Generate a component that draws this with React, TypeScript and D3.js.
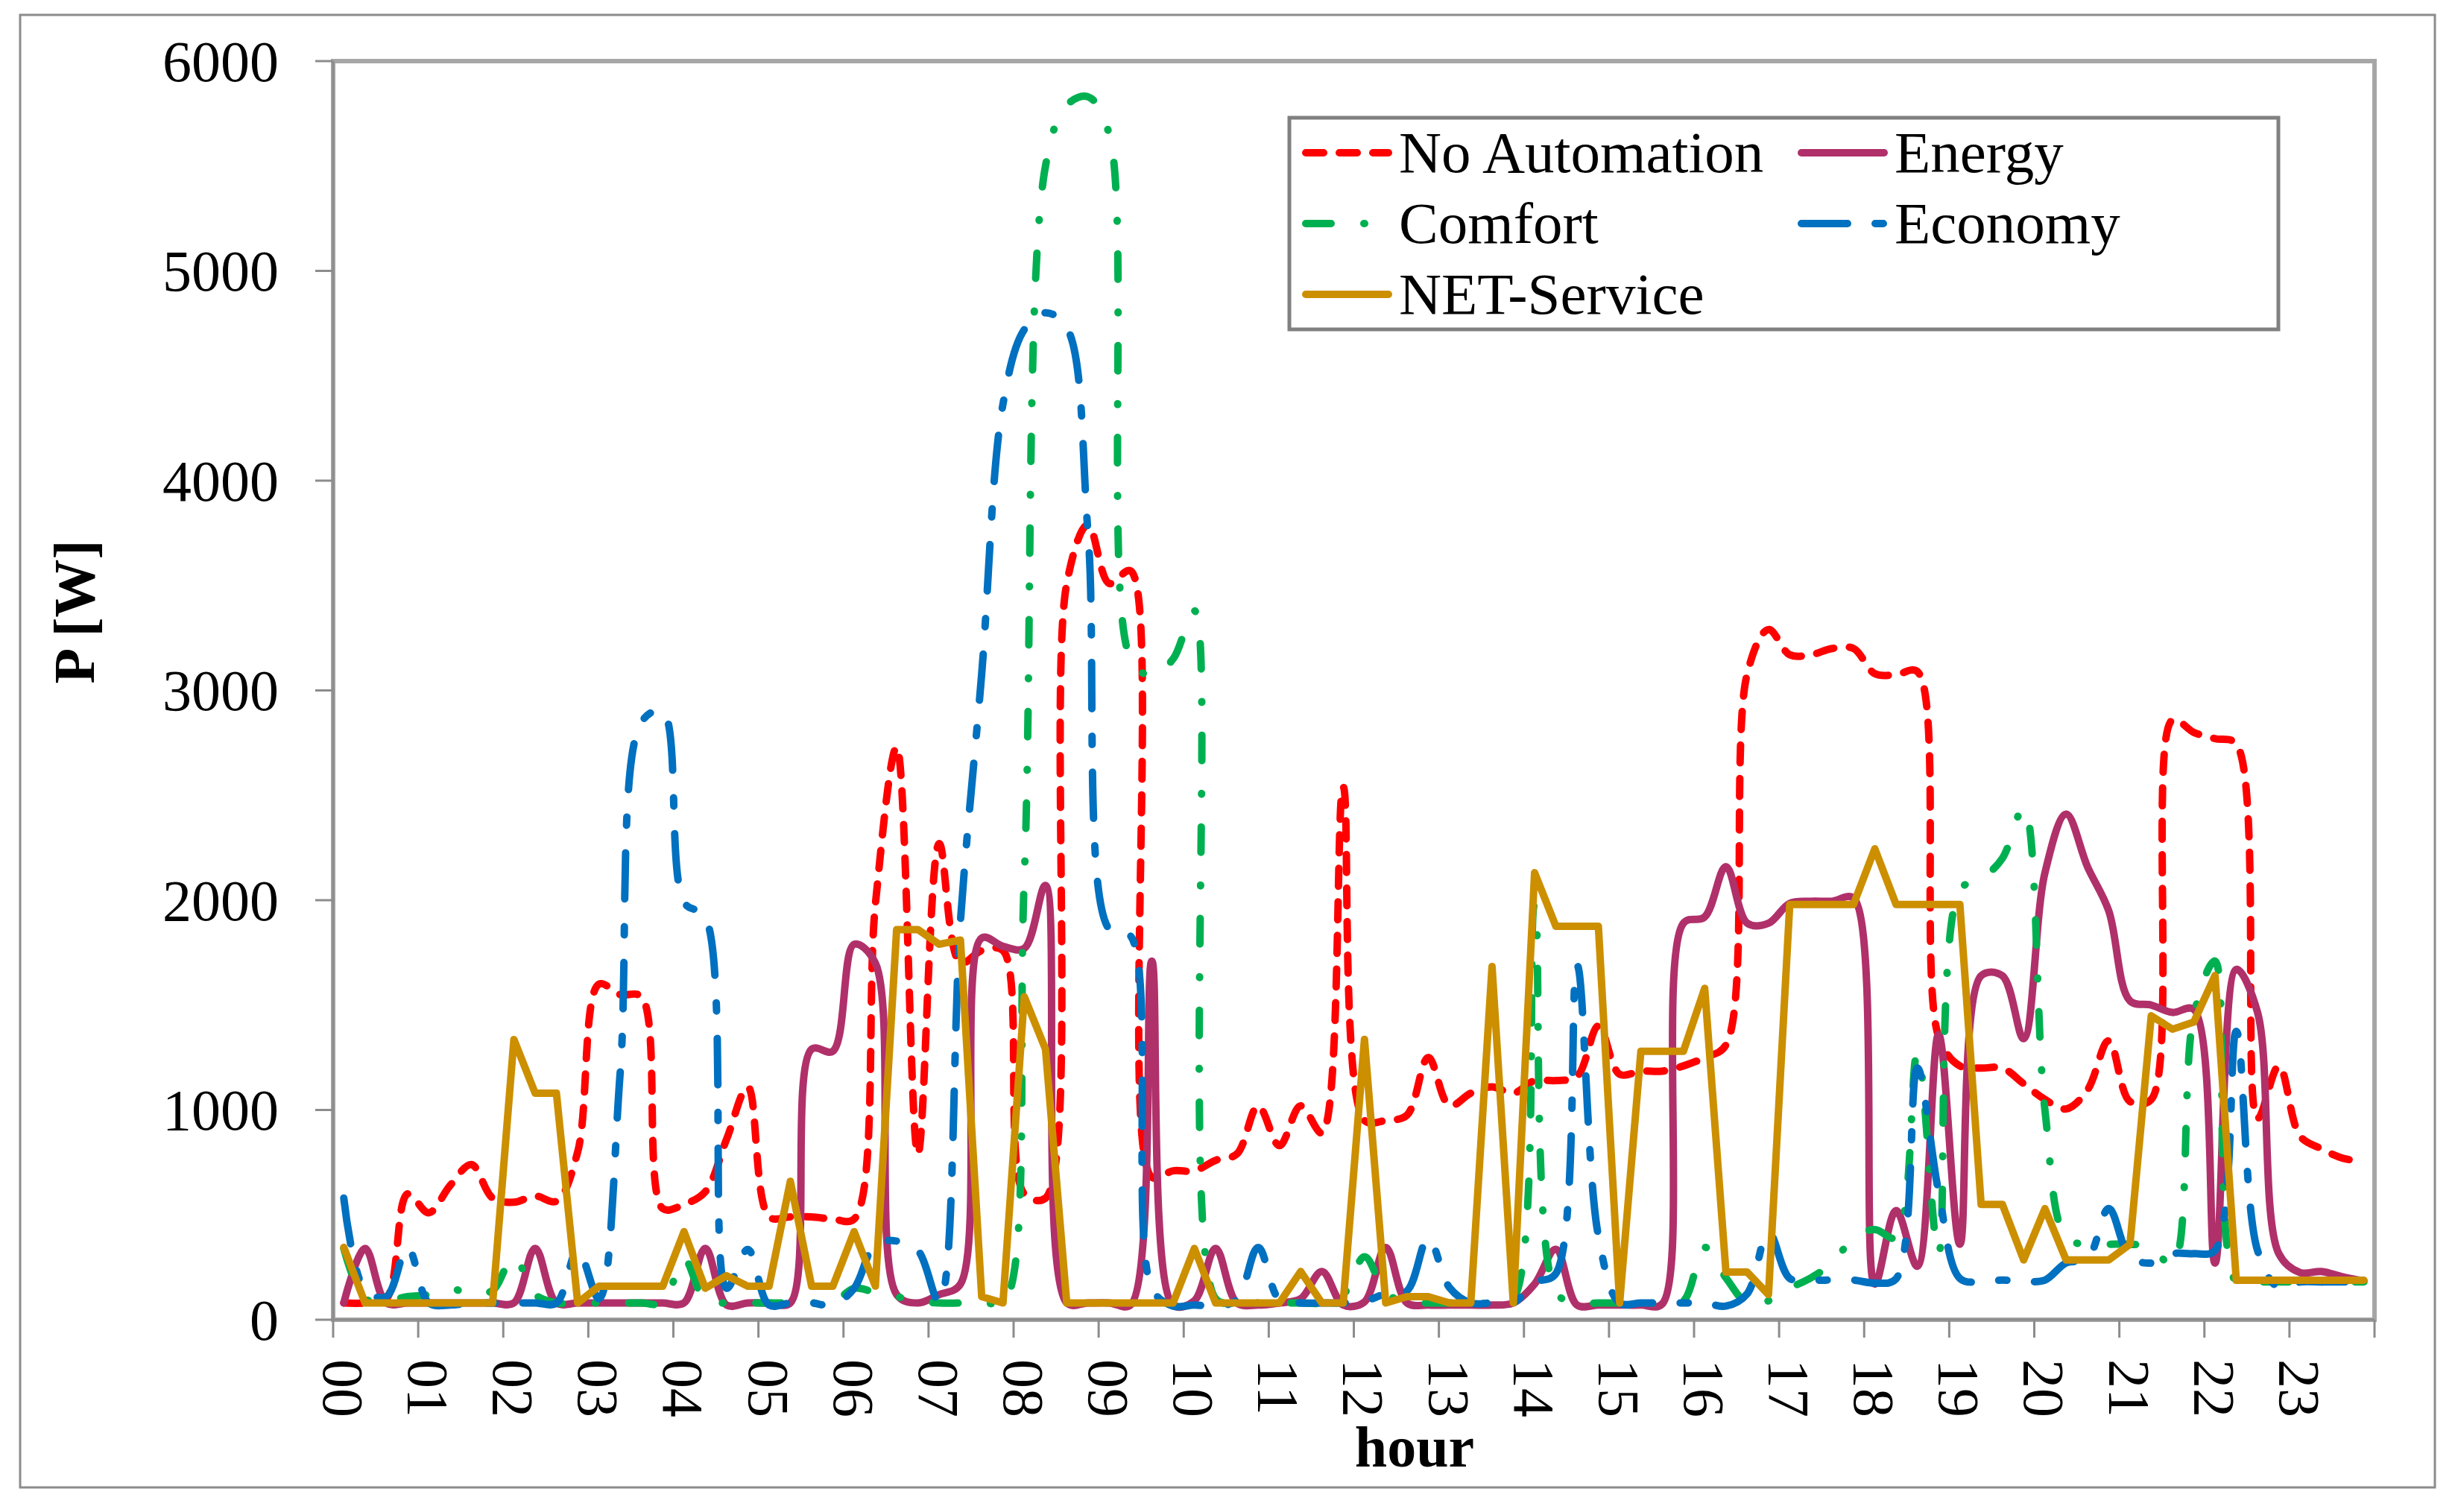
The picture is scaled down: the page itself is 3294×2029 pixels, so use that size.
import { useEffect, useRef } from 'react';
import * as d3 from 'd3';

// Household power profile, 15-minute slots over one day, five control strategies.

const W = 3294;
const H = 2029;
const PLOT = { left: 447, right: 3186, top: 82, bottom: 1771 };
const FONT = '"Liberation Serif", "Times New Roman", serif';

const HOURS = [
  '00', '01', '02', '03', '04', '05', '06', '07', '08', '09', '10', '11',
  '12', '13', '14', '15', '16', '17', '18', '19', '20', '21', '22', '23',
];
const Y_TICKS = [0, 1000, 2000, 3000, 4000, 5000, 6000];

// values per 15 min, four per hour (one row = one hour)
const NO_AUTOMATION = [
  80, 80, 100, 600,
  510, 640, 740, 580,
  560, 590, 565, 800,
  1600, 1550, 1540, 530,
  550, 610, 860, 1110,
  490, 490, 490, 480,
  480, 1980, 2730, 790,
  2270, 1700, 1760, 1760,
  600, 580, 3510, 3790,
  3510, 3570, 680, 710,
  710, 760, 790, 1020,
  830, 1020, 890, 2540,
  950, 950, 975, 1250,
  1020, 1080, 1110, 1080,
  1140, 1140, 1160, 1400,
  1170, 1185, 1185, 1210,
  1250, 1310, 3080, 3290,
  3170, 3170, 3200, 3200,
  3080, 3075, 3090, 1350,
  1210, 1200, 1200, 1125,
  1050, 1005, 1095, 1330,
  1040, 1050, 2860, 2800,
  2770, 2745, 960, 1210,
  875, 815, 770, 755,
];

const ENERGY = [
  80, 340, 80, 80,
  80, 80, 80, 80,
  80, 340, 80, 80,
  80, 80, 80, 80,
  80, 340, 70, 80,
  80, 80, 1290, 1280,
  1790, 1700, 120, 80,
  120, 170, 1820, 1780,
  1770, 2070, 80, 80,
  80, 70, 1710, 70,
  90, 340, 80, 70,
  80, 100, 230, 70,
  85, 345, 80, 70,
  70, 70, 70, 80,
  170, 336, 70, 70,
  70, 70, 75, 1890,
  1920, 2160, 1890, 1890,
  1985, 1995, 1995, 2010,
  170, 520, 255, 1360,
  360, 1640, 1640, 1340,
  2130, 2410, 2160, 1950,
  1520, 1500, 1465, 1480,
  270, 1670, 1465, 315,
  225, 230, 205, 185,
];

const COMFORT = [
  340, 100, 90, 110,
  120, 150, 120, 140,
  300, 120, 80, 80,
  80, 80, 80, 80,
  290, 90, 80, 80,
  80, 80, 80, 80,
  150, 130, 110, 90,
  80, 80, 90, 75,
  2100, 5500, 5790, 5830,
  5650, 3150, 3070, 3150,
  3380, 100, 80, 80,
  80, 80, 80, 120,
  300, 130, 80, 80,
  80, 80, 80, 100,
  1980, 130, 80, 80,
  80, 80, 80, 90,
  345, 200, 80, 90,
  150, 200, 270, 390,
  430, 390, 1270, 315,
  2050, 2100, 2200, 2440,
  1000, 390, 360, 360,
  360, 345, 260, 1450,
  1710, 180, 180, 180,
  180, 180, 180, 180,
];

const ECONOMY = [
  580, 140, 110, 345,
  80, 70, 80, 80,
  80, 80, 80, 330,
  100, 1180, 2850, 2900,
  1990, 1920, 150, 335,
  70, 80, 80, 70,
  150, 360, 375, 330,
  85, 1900, 3080, 4365,
  4720, 4800, 4730, 3750,
  1860, 1830, 150, 65,
  70, 65, 95, 345,
  95, 80, 80, 80,
  88, 124, 138, 389,
  153, 80, 80, 80,
  177, 220, 1690, 400,
  80, 80, 80, 80,
  80, 65, 124, 418,
  197, 189, 189, 189,
  175, 195, 1200, 610,
  197, 180, 189, 183,
  189, 271, 290, 530,
  300, 270, 315, 315,
  330, 1375, 330, 153,
  180, 180, 180, 180,
];

const NET_SERVICE = [
  345, 80, 80, 80,
  80, 80, 80, 80,
  1336, 1080, 1080, 80,
  160, 160, 160, 160,
  420, 150, 210, 160,
  160, 660, 160, 160,
  420, 160, 1860, 1860,
  1790, 1810, 110, 80,
  1540, 1290, 80, 80,
  80, 80, 80, 80,
  340, 80, 80, 80,
  80, 230, 80, 80,
  1337, 80, 110, 110,
  80, 80, 1684, 80,
  2131, 1876, 1876, 1876,
  80, 1280, 1280, 1280,
  1580, 227, 227, 120,
  1980, 1980, 1980, 1980,
  2245, 1980, 1980, 1980,
  1980, 550, 550, 285,
  530, 285, 285, 285,
  360, 1449, 1385, 1419,
  1641, 188, 188, 188,
  188, 188, 188, 188,
];

interface Series {
  name: string;
  values: number[];
  colour: string;
  dash: string | null;
  smooth: boolean;
}

// drawing order = Excel series order, NET-Service ends up on top
const SERIES: Series[] = [
  { name: 'No Automation', values: NO_AUTOMATION, colour: '#ff0000', dash: '24 21', smooth: true },
  { name: 'Energy', values: ENERGY, colour: '#b0306a', dash: null, smooth: true },
  { name: 'Comfort', values: COMFORT, colour: '#00b050', dash: '34 44 1 44', smooth: true },
  { name: 'Economy', values: ECONOMY, colour: '#0070c0', dash: '62 37 11 37', smooth: true },
  { name: 'NET-Service', values: NET_SERVICE, colour: '#cc8f00', dash: null, smooth: false },
];

const LINE_W = 10;

export default function App() {
  const svgRef = useRef<SVGSVGElement>(null);

  useEffect(() => {
    if (!svgRef.current) return;
    const svg = d3.select(svgRef.current);
    svg.selectAll('*').remove();

    const nSlots = NO_AUTOMATION.length;
    const x = d3
      .scaleBand<number>()
      .domain(d3.range(nSlots))
      .range([PLOT.left, PLOT.right]);
    const bw = x.bandwidth();
    const y = d3.scaleLinear().domain([0, 6000]).range([PLOT.bottom, PLOT.top]);

    svg.append('rect').attr('width', W).attr('height', H).attr('fill', '#fff');

    // chart frame
    svg
      .append('rect')
      .attr('x', 27)
      .attr('y', 20)
      .attr('width', 3240)
      .attr('height', 1976)
      .attr('fill', 'none')
      .attr('stroke', '#8c8c8c')
      .attr('stroke-width', 3);

    // plot area border
    svg
      .append('rect')
      .attr('x', PLOT.left)
      .attr('y', PLOT.top)
      .attr('width', PLOT.right - PLOT.left)
      .attr('height', PLOT.bottom - PLOT.top)
      .attr('fill', 'none')
      .attr('stroke', '#a6a6a6')
      .attr('stroke-width', 6);

    // y axis
    const yAxis = svg.append('g');
    yAxis
      .append('line')
      .attr('x1', PLOT.left)
      .attr('x2', PLOT.left)
      .attr('y1', PLOT.top)
      .attr('y2', PLOT.bottom)
      .attr('stroke', '#8c8c8c')
      .attr('stroke-width', 3);
    Y_TICKS.forEach((t) => {
      yAxis
        .append('line')
        .attr('x1', PLOT.left - 24)
        .attr('x2', PLOT.left)
        .attr('y1', y(t))
        .attr('y2', y(t))
        .attr('stroke', '#8c8c8c')
        .attr('stroke-width', 3);
      yAxis
        .append('text')
        .attr('x', 374)
        .attr('y', y(t))
        .attr('dy', '0.34em')
        .attr('text-anchor', 'end')
        .attr('font-family', FONT)
        .attr('font-size', 78)
        .attr('fill', '#000')
        .text(t);
    });

    // x axis: tick every 4 slots, hour label centred on the first slot of the hour
    const xAxis = svg.append('g');
    xAxis
      .append('line')
      .attr('x1', PLOT.left)
      .attr('x2', PLOT.right)
      .attr('y1', PLOT.bottom)
      .attr('y2', PLOT.bottom)
      .attr('stroke', '#8c8c8c')
      .attr('stroke-width', 3);
    d3.range(0, nSlots + 1, 4).forEach((s) => {
      const tx = s < nSlots ? (x(s) as number) : PLOT.right;
      xAxis
        .append('line')
        .attr('x1', tx)
        .attr('x2', tx)
        .attr('y1', PLOT.bottom)
        .attr('y2', PLOT.bottom + 24)
        .attr('stroke', '#8c8c8c')
        .attr('stroke-width', 3);
    });
    HOURS.forEach((h, k) => {
      const cx = (x(k * 4) as number) + bw / 2;
      xAxis
        .append('text')
        .attr('transform', `translate(${cx},1824) rotate(90)`)
        .attr('dy', '0.35em')
        .attr('font-family', FONT)
        .attr('font-size', 78)
        .attr('fill', '#000')
        .text(h);
    });

    // axis titles
    svg
      .append('text')
      .attr('transform', 'translate(126,821) rotate(-90)')
      .attr('text-anchor', 'middle')
      .attr('font-family', FONT)
      .attr('font-weight', 'bold')
      .attr('font-size', 78)
      .text('P [W]');
    svg
      .append('text')
      .attr('x', 1898)
      .attr('y', 1968)
      .attr('text-anchor', 'middle')
      .attr('font-family', FONT)
      .attr('font-weight', 'bold')
      .attr('font-size', 78)
      .text('hour');

    // series
    const lines = svg.append('g');
    SERIES.forEach((s) => {
      const line = d3
        .line<number>()
        .x((_, i) => (x(i) as number) + bw / 2)
        .y((v) => y(v))
        .curve(s.smooth ? d3.curveCatmullRom : d3.curveLinear);
      const path = lines
        .append('path')
        .attr('d', line(s.values))
        .attr('fill', 'none')
        .attr('stroke', s.colour)
        .attr('stroke-width', LINE_W)
        .attr('stroke-linejoin', 'round')
        .attr('stroke-linecap', 'round');
      if (s.dash) path.attr('stroke-dasharray', s.dash);
    });

    // legend
    const lg = svg.append('g');
    lg.append('rect')
      .attr('x', 1730)
      .attr('y', 158)
      .attr('width', 1327)
      .attr('height', 284)
      .attr('fill', '#fff')
      .attr('stroke', '#808080')
      .attr('stroke-width', 5);
    const colX = [1747, 2412];
    const rowY = [205, 300, 395];
    SERIES.forEach((s, k) => {
      const cx = colX[k % 2];
      const ry = rowY[Math.floor(k / 2)];
      const sample = lg
        .append('line')
        .attr('x1', cx + 5)
        .attr('x2', cx + 116)
        .attr('y1', ry)
        .attr('y2', ry)
        .attr('stroke', s.colour)
        .attr('stroke-width', LINE_W)
        .attr('stroke-linecap', 'round');
      if (s.dash) sample.attr('stroke-dasharray', s.dash);
      lg.append('text')
        .attr('x', cx + 130)
        .attr('y', ry + 26)
        .attr('font-family', FONT)
        .attr('font-size', 79)
        .attr('fill', '#000')
        .text(s.name);
    });
  }, []);

  return (
    <div style={{ position: 'absolute', left: 0, top: 0 }}>
      <svg ref={svgRef} width={W} height={H} style={{ display: 'block' }} />
    </div>
  );
}
